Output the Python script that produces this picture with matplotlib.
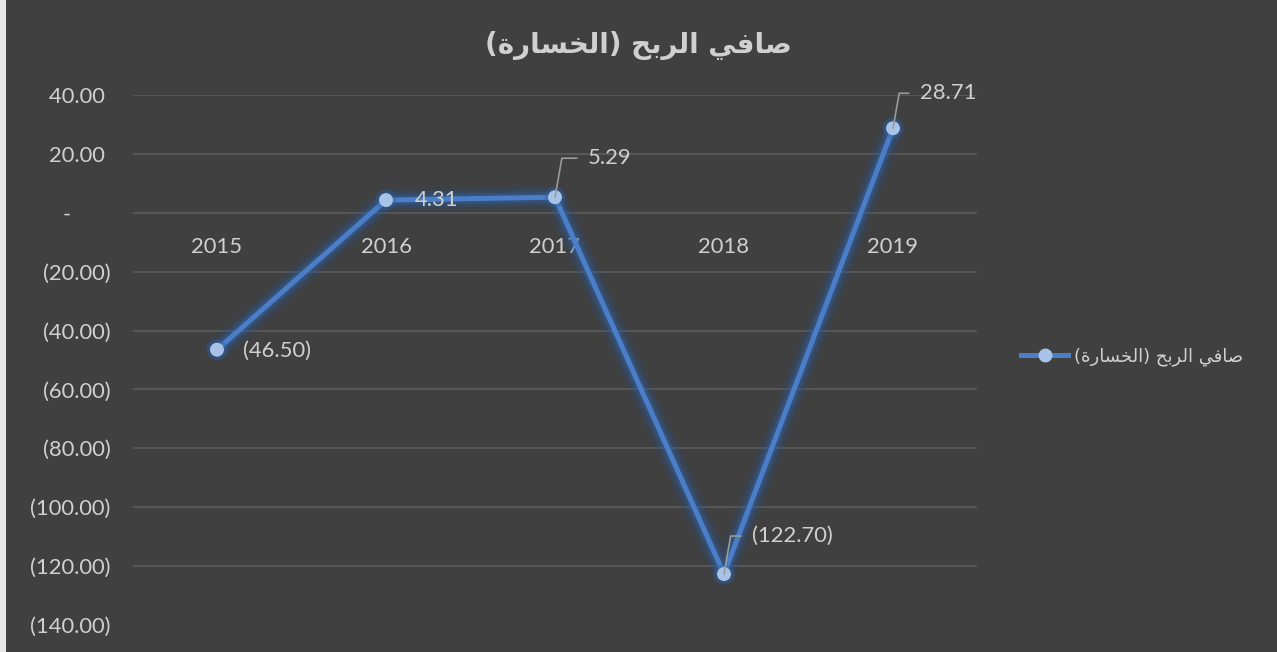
import matplotlib
matplotlib.use("Agg")
import matplotlib.pyplot as plt
import matplotlib.patheffects as pe
from matplotlib.patches import Rectangle
from matplotlib.lines import Line2D

# ---- data ----
years = ["2015", "2016", "2017", "2018", "2019"]
values = [-46.50, 4.31, 5.29, -122.70, 28.71]
y_ticks = [40, 20, 0, -20, -40, -60, -80, -100, -120, -140]

# Arabic text, pre-shaped (presentation forms) in visual order since matplotlib has no bidi shaping
# logical: "صافي الربح (الخسارة)"
title_visual = "(\uFE93\uFEAD\uFE8E\uFEB4\uFEA8\uFEDF\uFE8D) \uFEA2\uFE91\uFEAE\uFEDF\uFE8D \uFEF2\uFED3\uFE8E\uFEBB"

BG = "#404040"
GRID = "#5a5a5a"
TXT = "#d0d0d0"
LINE = "#4a7ec8"
MARK = "#a7c3e8"
FS = 15.8

plt.rcParams['font.family'] = ['Lato', 'DejaVu Sans']

fig = plt.figure(figsize=(12.77, 6.52), dpi=100, facecolor=BG)
W, H = 1277, 652
# light left edge
fig.patches.append(Rectangle((0, 0), 6 / W, 1, transform=fig.transFigure,
                             facecolor="#e6e6e6", edgecolor="none", zorder=0))

ax = fig.add_axes([132.5 / W, 1 - 625 / H, (977.5 - 132.5) / W, (625 - 95) / H])
ax.set_facecolor(BG)
ax.set_xlim(-0.5, len(years) - 0.5)
ax.set_ylim(-140, 40)

for t in y_ticks:
    if t > -140:
        ax.axhline(t, color=GRID, lw=1.3, zorder=1)

for s in ax.spines.values():
    s.set_visible(False)


def fmt(v):
    if v == 0:
        return "-       "
    if v > 0:
        return f"{v:.2f} "
    return f"({abs(v):.2f})"


ax.set_yticks(y_ticks)
ax.set_yticklabels([fmt(t) for t in y_ticks], color=TXT, fontsize=FS)
ax.tick_params(axis='y', length=0, pad=16)

xs = list(range(len(years)))
ax.spines['bottom'].set_position(('data', 0))
ax.set_xticks(xs)
ax.set_xticklabels(years, color=TXT, fontsize=FS)
ax.tick_params(axis='x', length=0, pad=17.5)

glow = [pe.Stroke(linewidth=17, foreground="#24508c", alpha=0.15),
        pe.Stroke(linewidth=12, foreground="#2a5c9e", alpha=0.22),
        pe.Stroke(linewidth=7.5, foreground="#3368ae", alpha=0.32),
        pe.Normal()]
ax.plot(xs, values, color=LINE, lw=3.6, zorder=3, solid_joinstyle='round',
        solid_capstyle='round', path_effects=glow)
ax.plot(xs, values, linestyle='none', marker='o', ms=9, mfc=MARK, mec=MARK, zorder=4,
        path_effects=[pe.Stroke(linewidth=6, foreground="#2f64a8", alpha=0.35), pe.Normal()])


def lab(v):
    return f"{v:.2f}" if v >= 0 else f"({abs(v):.2f})"


plain = {0: (26, -1), 1: (29, 0)}
leader = {2: (33, 39), 3: (28, 38), 4: (27, 35)}
for i, v in enumerate(values):
    txt = lab(v)
    if i in plain:
        dx, dy = plain[i]
        ax.annotate(txt, (i, v), xytext=(dx, dy), textcoords='offset pixels',
                    ha='left', va='center', color=TXT, fontsize=FS, zorder=5)
    else:
        dx, dy = leader[i]
        ax.annotate(txt, (i, v), xytext=(dx, dy), textcoords='offset pixels',
                    ha='left', va='center', color=TXT, fontsize=FS, zorder=5,
                    arrowprops=dict(arrowstyle='-', color="#9a9a9a", lw=1.2,
                                    connectionstyle="angle,angleA=0,angleB=80,rad=0",
                                    shrinkA=6, shrinkB=0))

fig.text(638 / W, 1 - 45 / H, title_visual, ha='center', va='center', color=TXT,
         fontsize=20, fontweight='bold', family=['DejaVu Sans'])

# legend
h = Line2D([], [], color=LINE, lw=3.6, marker='o', ms=9, mfc=MARK, mec=MARK)
leg = fig.legend([h], [title_visual], loc='center left', bbox_to_anchor=(1005 / W, 1 - 357 / H),
                 frameon=False, handlelength=2.6, handletextpad=0.3,
                 prop={'family': ['DejaVu Sans'], 'size': 13})
for t in leg.get_texts():
    t.set_color(TXT)

fig.savefig("out.png", dpi=100, facecolor=BG)
